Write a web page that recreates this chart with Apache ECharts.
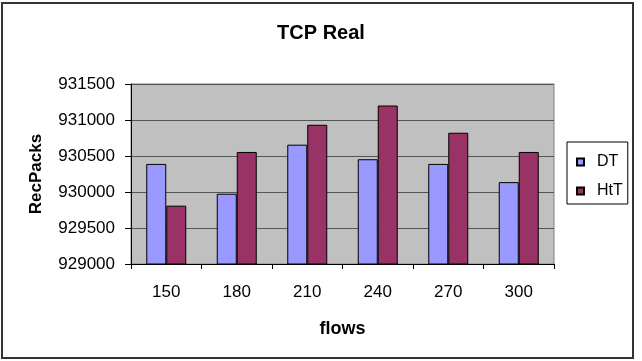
<!DOCTYPE html>
<html>
<head>
<meta charset="utf-8">
<script src="https://cdn.jsdelivr.net/npm/echarts@6/dist/echarts.min.js"></script>
<style>
  html, body { margin: 0; padding: 0; background: #fff; }
  #chart { width: 642px; height: 361px; }
</style>
</head>
<body>
<div id="chart"></div>
<script>
// data
const flows = ['150', '180', '210', '240', '270', '300'];
const dtValues = [930390, 929976, 930657, 930455, 930390, 930137];
const httValues = [929810, 930556, 930934, 931201, 930823, 930556];
const seriesNames = ['DT', 'HtT'];

const chart = echarts.init(document.getElementById('chart'));
const font = 'Liberation Sans, Arial, sans-serif';

chart.setOption({
  animation: false,
  title: {
    text: 'TCP Real',
    left: 316,
    top: 18,
    textAlign: 'center',
    textStyle: { fontFamily: font, fontSize: 20, fontWeight: 'bold', color: '#000' }
  },
  graphic: [
    {
      type: 'rect',
      shape: { x: 2, y: 3, width: 631, height: 355 },
      style: { fill: 'none', stroke: '#333', lineWidth: 2 },
      silent: true
    }
  ],
  legend: {
    data: seriesNames,
    orient: 'vertical',
    left: 567,
    top: 142,
    icon: 'rect',
    itemWidth: 7,
    itemHeight: 7,
    itemGap: 13,
    padding: [12, 5, 5, 9],
    borderColor: '#000',
    borderWidth: 1,
    textStyle: { fontFamily: font, fontSize: 16, color: '#000', padding: [0, 0, 0, 8] }
  },
  grid: {
    left: 131,
    right: 88,
    top: 84,
    bottom: 97,
    show: true,
    backgroundColor: '#c0c0c0',
    borderColor: '#808080',
    borderWidth: 1,
    containLabel: false
  },
  xAxis: {
    type: 'category',
    data: flows,
    name: 'flows',
    nameLocation: 'middle',
    nameGap: 56,
    nameTextStyle: { fontFamily: font, fontSize: 18, fontWeight: 'bold', color: '#000' },
    axisLine: { lineStyle: { color: '#000', width: 1 } },
    axisTick: { show: true, length: 5, lineStyle: { color: '#000' } },
    axisLabel: { fontFamily: font, fontSize: 17, color: '#000', margin: 20 }
  },
  yAxis: {
    type: 'value',
    min: 929000,
    max: 931500,
    interval: 500,
    name: 'RecPacks',
    nameLocation: 'middle',
    nameGap: 86,
    nameTextStyle: { fontFamily: font, fontSize: 17, fontWeight: 'bold', color: '#000' },
    axisLine: { show: true, lineStyle: { color: '#000', width: 1 } },
    axisTick: { show: true, length: 6, lineStyle: { color: '#000' } },
    axisLabel: {
      fontFamily: font, fontSize: 17, color: '#000', margin: 16,
      formatter: (v) => String(v)
    },
    splitLine: { lineStyle: { color: '#555', width: 1 } }
  },
  series: [
    {
      name: seriesNames[0],
      type: 'bar',
      data: dtValues,
      barWidth: 20,
      barGap: '0%',
      itemStyle: { color: '#9999ff', borderColor: '#000', borderWidth: 1 }
    },
    {
      name: seriesNames[1],
      type: 'bar',
      data: httValues,
      barWidth: 20,
      itemStyle: { color: '#993366', borderColor: '#000', borderWidth: 1 }
    }
  ]
});
</script>
</body>
</html>
